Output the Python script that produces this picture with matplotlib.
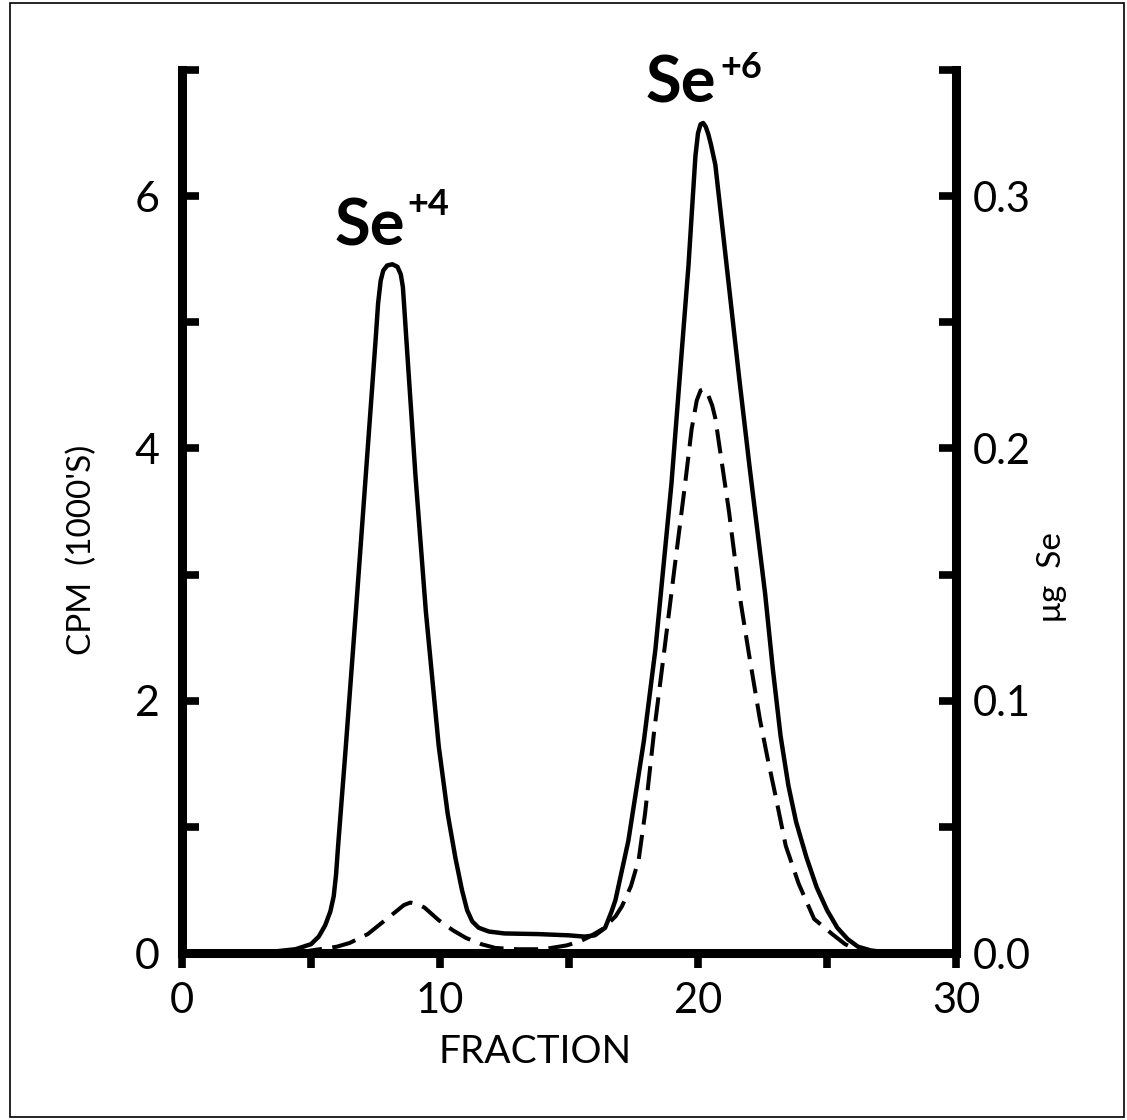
import matplotlib
matplotlib.use("Agg")
import matplotlib.pyplot as plt
from matplotlib.patches import Rectangle

# solid curve: radioactivity (CPM, thousands), left axis
fraction_cpm = [0, 2, 3.5, 4.4, 5.0, 5.3, 5.55, 5.75, 5.88, 5.97, 6.05, 6.35,
                6.74, 7.12, 7.5, 7.6, 7.7, 7.8, 7.95, 8.15, 8.35, 8.48, 8.56,
                8.62, 8.7, 9.05, 9.45, 9.95, 10.3, 10.6, 10.85, 11.05, 11.25,
                11.5, 11.9, 12.5, 13.8, 15.0, 15.6, 16.0, 16.4, 16.65, 16.8,
                17.3, 17.9, 18.35, 18.97, 19.4, 19.63, 19.8, 19.9, 20.0, 20.1,
                20.2, 20.3, 20.4, 20.5, 20.67, 21.0, 21.6, 22.0, 22.6, 22.9,
                23.2, 23.5, 23.8, 24.2, 24.6, 25.0, 25.4, 25.8, 26.2, 26.7,
                27.3, 28.0, 30]
cpm = [0, 0, 0.01, 0.03, 0.07, 0.13, 0.22, 0.33, 0.45, 0.62, 0.85, 1.64,
       2.71, 3.78, 4.85, 5.15, 5.33, 5.41, 5.45, 5.46, 5.44, 5.38, 5.28,
       5.1, 4.85, 3.78, 2.71, 1.64, 1.1, 0.75, 0.5, 0.34, 0.25,
       0.2, 0.17, 0.155, 0.15, 0.14, 0.13, 0.14, 0.2, 0.33, 0.42,
       0.89, 1.68, 2.41, 3.72, 4.85, 5.45, 6.0, 6.32, 6.5, 6.57,
       6.58, 6.55, 6.49, 6.41, 6.25, 5.65, 4.55, 3.85, 2.85, 2.25,
       1.72, 1.33, 1.04, 0.76, 0.52, 0.34, 0.2, 0.11, 0.05, 0.02,
       0.005, 0, 0]

# dashed curve: selenium mass (ug), right axis
fraction_se = [4.5, 5.0, 6.0, 6.5, 7.2, 7.75, 8.3, 8.6, 8.85, 9.1, 9.4, 9.95,
               10.5, 11.0, 11.6, 12.15, 13.0, 14.0, 14.9, 15.4, 15.8, 16.3,
               16.8, 17.05, 17.4, 17.7, 17.95, 18.3, 18.7, 19.1, 19.5, 19.75,
               19.95, 20.1, 20.25, 20.4, 20.55, 20.67, 21.2, 21.6, 21.95, 22.4,
               22.7, 23.0, 23.4, 23.9, 24.5, 25.2, 25.7, 26.1, 26.6]
ug_se = [0, 0.001, 0.0025, 0.004, 0.0075, 0.012, 0.0165, 0.019, 0.020,
         0.0195, 0.018, 0.013, 0.009, 0.006, 0.0035, 0.002, 0.0015, 0.0015,
         0.003, 0.0045, 0.0065, 0.0095, 0.0145, 0.0185, 0.0265, 0.037,
         0.0555, 0.088, 0.1205, 0.1535, 0.186, 0.2075, 0.219, 0.223, 0.2235,
         0.221, 0.217, 0.212, 0.175, 0.1425, 0.12, 0.0925, 0.077, 0.0625,
         0.0425, 0.0275, 0.0135, 0.0075, 0.0035, 0.0015, 0]

x_ticks = [0, 5, 10, 15, 20, 25, 30]
x_labels = ["0", "", "10", "", "20", "", "30"]
left_ticks = [0, 1, 2, 3, 4, 5, 6, 7]
left_labels = ["0", "", "2", "", "4", "", "6", ""]
right_ticks = [0.0, 0.05, 0.1, 0.15, 0.2, 0.25, 0.3, 0.35]
right_labels = ["0.0", "", "0.1", "", "0.2", "", "0.3", ""]

plt.rcParams["font.family"] = ["Lato", "DejaVu Sans"]

fig = plt.figure(figsize=(11.27, 11.2), dpi=100)
ax = fig.add_axes([0.1615, 0.1491, 0.6868, 0.7884])
ax2 = ax.twinx()

ax.plot(fraction_cpm, cpm, color="black", lw=3.2,
        solid_joinstyle="round", solid_capstyle="round")
ax2.plot(fraction_se, ug_se, color="black", lw=2.9,
         linestyle=(0, (6, 2.6)))

ax.set_xlim(0, 30)
ax.set_ylim(0, 7)
ax2.set_ylim(0, 0.35)

ax.set_xticks(x_ticks, x_labels)
ax.set_yticks(left_ticks, left_labels)
ax2.set_yticks(right_ticks, right_labels)

for side in ["top", "right"]:
  ax.spines[side].set_visible(False)
for side in ["top", "left", "bottom"]:
  ax2.spines[side].set_visible(False)
for sp in [ax.spines["left"], ax.spines["bottom"], ax2.spines["right"]]:
  sp.set_linewidth(6.5)
  sp.set_capstyle("projecting")

ax.tick_params(axis="x", direction="out", length=11, width=5.5,
               labelsize=30, pad=10)
ax.tick_params(axis="y", direction="in", length=12, width=5.5,
               labelsize=31, pad=16)
ax2.tick_params(axis="y", direction="in", length=12, width=5.5,
                labelsize=30, pad=12)

# peak labels
ax.text(5.93, 5.61, "Se", fontsize=47, fontweight="bold", va="baseline")
ax.text(8.75, 5.85, "+4", fontsize=26, fontweight="bold", va="baseline")
ax.text(17.95, 6.74, "Se", fontsize=47, fontweight="bold", va="baseline")
ax.text(20.85, 6.94, "+6", fontsize=26, fontweight="bold", va="baseline")

fig.text(0.4747, 0.0607, "FRACTION", fontsize=28, ha="center", va="center")
fig.text(0.0728, 0.5089, "CPM  (1000'S)", fontsize=24, rotation=90,
         ha="center", va="center")
fig.text(0.9334, 0.4848, "\u03bcg  Se", fontsize=24, rotation=90,
         ha="center", va="center")

fig.add_artist(Rectangle((10 / 1127, 3 / 1120), 1114 / 1127, 1114 / 1120,
                         transform=fig.transFigure, fill=False, lw=1.2,
                         edgecolor="black"))

fig.savefig("out.png", dpi=100)
